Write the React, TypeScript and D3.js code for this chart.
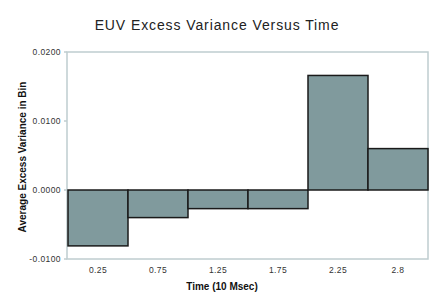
import { scaleBand, scaleLinear } from "d3";

const TIME_LABELS = ["0.25", "0.75", "1.25", "1.75", "2.25", "2.8"];
const EXCESS_VARIANCE = [-0.0081, -0.004, -0.0027, -0.0027, 0.0166, 0.006];
const Y_TICKS = [-0.01, 0, 0.01, 0.02];

const W = 436;
const H = 299;
const M = { top: 52, right: 8, bottom: 40, left: 67 };

export default function App() {
  const x = scaleBand<string>()
    .domain(TIME_LABELS)
    .range([M.left + 1, W - M.right])
    .padding(0);
  const y = scaleLinear()
    .domain([-0.01, 0.02])
    .range([H - M.bottom, M.top]);

  const frame = "#bfcdcf";

  return (
    <svg
      width={W}
      height={H}
      style={{ position: "absolute", left: 0, top: 0 }}
      fontFamily="Liberation Sans, Arial, sans-serif"
    >
      <rect width={W} height={H} fill="#fff" />
      <text
        x={217}
        y={30}
        textAnchor="middle"
        fontSize={14}
        letterSpacing={0.9}
        fill="#222"
      >
        EUV Excess Variance Versus Time
      </text>

      {/* plot frame */}
      <rect
        x={M.left}
        y={M.top}
        width={W - M.right - M.left}
        height={H - M.bottom - M.top}
        fill="none"
        stroke={frame}
        strokeWidth={1.5}
      />

      {Y_TICKS.map((t) => (
        <g key={t}>
          <line
            x1={M.left - 3}
            x2={M.left}
            y1={y(t)}
            y2={y(t)}
            stroke={frame}
            strokeWidth={1.5}
          />
          <text
            x={M.left - 6}
            y={y(t)}
            dy="0.35em"
            textAnchor="end"
            fontSize={8.5}
            letterSpacing={0.4}
            fill="#333"
          >
            {t.toFixed(4)}
          </text>
        </g>
      ))}

      {TIME_LABELS.map((d, i) => {
        const v = EXCESS_VARIANCE[i];
        return (
          <rect
            key={d}
            x={x(d)}
            y={y(Math.max(0, v))}
            width={x.bandwidth()}
            height={Math.abs(y(v) - y(0))}
            fill="#809a9d"
            stroke="#1a1a1a"
            strokeWidth={1.5}
          />
        );
      })}

      {TIME_LABELS.map((d) => (
        <text
          key={d}
          x={(x(d) ?? 0) + x.bandwidth() / 2}
          y={273}
          textAnchor="middle"
          fontSize={8.5}
          letterSpacing={0.4}
          fill="#333"
        >
          {d}
        </text>
      ))}

      <text
        x={222}
        y={290}
        textAnchor="middle"
        fontSize={10}
        fontWeight="bold"
        fill="#111"
      >
        Time (10 Msec)
      </text>
      <text
        transform={`translate(26,157) rotate(-90)`}
        textAnchor="middle"
        fontSize={10}
        fontWeight="bold"
        fill="#111"
      >
        Average Excess Variance in Bin
      </text>
    </svg>
  );
}
